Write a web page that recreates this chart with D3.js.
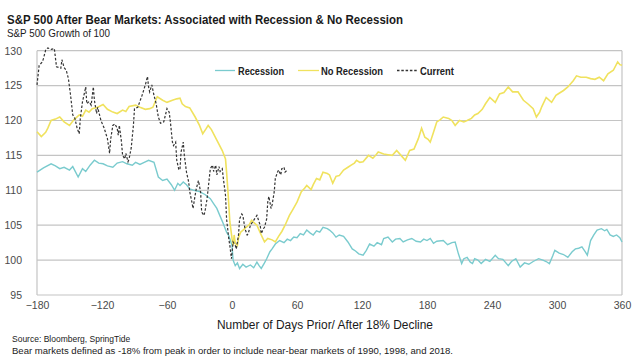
<!DOCTYPE html>
<html><head><meta charset="utf-8">
<script src="https://cdn.jsdelivr.net/npm/d3@7"></script>
<style>body{margin:0;background:#fff}svg{display:block}</style>
</head><body>
<svg id="c" width="643" height="358"></svg>
<script>
const titleText = "S&P 500 After Bear Markets: Associated with Recession & No Recession";
const subtitleText = "S&P 500 Growth of 100";
const xTitle = "Number of Days Prior/ After 18% Decline";
const sourceText = "Source: Bloomberg, SpringTide";
const noteText = "Bear markets defined as -18% from peak in order to include near-bear markets of 1990, 1998, and 2018.";
const xTicks = [-180,-120,-60,0,60,120,180,240,300,360];
const yTicks = [95,100,105,110,115,120,125,130];
const seriesNames = ["Recession","No Recession","Current"];

const recession = [[-180,112.6],[-174,113.2],[-167,113.8],[-163,113.5],[-159,113.1],[-155,113.3],[-150,112.9],[-147,113.4],[-142,111.9],[-138,113.1],[-135,112.7],[-131,113.6],[-127,114.3],[-123,113.9],[-119,113.8],[-115,113.5],[-110,113.3],[-106,113.9],[-101,114.1],[-97,113.8],[-92,113.6],[-89,114.0],[-85,113.7],[-81,114.0],[-77,114.3],[-72,114.0],[-68,111.9],[-64,111.4],[-60,111.6],[-56,110.8],[-53,110.0],[-50,111.0],[-48,110.7],[-45,111.2],[-42,110.8],[-39,110.2],[-35,110.0],[-30,109.8],[-25,109.4],[-20,108.8],[-17,108.1],[-14,107.4],[-11,106.3],[-8,105.2],[-5,104.0],[-3,103.5],[0,102.1],[1,100.0],[3,99.2],[5,99.6],[7,98.8],[10,99.4],[13,99.0],[17,99.3],[20,98.9],[23,99.7],[25,99.2],[27,98.8],[30,99.6],[32,100.2],[35,101.2],[37,101.6],[40,102.3],[44,102.8],[48,102.5],[51,103.0],[54,102.8],[57,103.3],[60,103.2],[63,103.8],[66,103.6],[69,104.3],[72,103.9],[75,103.6],[78,104.2],[81,104.0],[84,104.7],[88,104.5],[90,104.3],[93,103.9],[96,103.3],[99,103.6],[103,103.4],[107,102.6],[111,101.6],[114,101.3],[117,100.9],[121,100.7],[124,101.4],[127,102.3],[131,102.0],[134,102.5],[138,102.2],[140,103.1],[144,103.3],[148,102.6],[151,103.0],[155,103.1],[158,102.6],[162,102.9],[166,103.1],[170,102.7],[174,102.6],[177,103.0],[180,102.8],[183,103.1],[186,102.4],[189,102.7],[195,102.8],[199,102.2],[203,102.5],[206,102.6],[209,100.9],[212,99.5],[214,100.2],[217,100.4],[220,99.7],[222,99.5],[224,100.2],[227,100.0],[230,99.5],[234,100.1],[238,99.8],[243,100.7],[246,100.2],[250,100.1],[255,99.2],[258,99.8],[262,100.2],[266,99.0],[270,99.6],[274,99.4],[278,99.8],[283,100.2],[287,100.0],[290,99.8],[293,99.5],[296,100.6],[298,101.4],[302,101.0],[306,100.8],[310,100.4],[314,101.2],[317,101.6],[320,101.7],[323,101.9],[326,101.2],[328,100.7],[331,102.8],[334,103.6],[337,104.3],[341,104.5],[344,104.2],[346,104.4],[349,103.6],[352,103.4],[355,103.6],[358,103.2],[360,102.6]];

const noRecession = [[-180,118.4],[-176,117.7],[-172,118.3],[-170,118.9],[-167,120.0],[-163,120.2],[-159,120.5],[-155,119.8],[-150,119.3],[-146,120.1],[-141,120.8],[-138,120.6],[-135,121.5],[-132,121.2],[-129,121.7],[-124,121.9],[-119,122.3],[-115,121.6],[-110,121.2],[-106,121.0],[-101,121.5],[-98,121.3],[-95,122.0],[-89,122.2],[-85,121.9],[-80,121.6],[-76,121.7],[-73,121.9],[-69,123.4],[-64,122.9],[-60,122.6],[-55,122.9],[-51,123.1],[-48,123.2],[-46,122.4],[-43,122.0],[-39,121.8],[-34,120.5],[-30,119.3],[-27,118.1],[-24,118.8],[-22,119.3],[-19,118.7],[-14,117.2],[-9,115.7],[-6,114.5],[-5,112.6],[-3.5,109.3],[-2,105.5],[0,103.1],[1,102.1],[2,103.6],[3,102.4],[5,102.1],[6,103.2],[8,104.0],[11,104.4],[13,104.7],[16,105.1],[18,105.7],[20,105.4],[23,105.0],[25,104.3],[27,103.6],[30,102.6],[33,103.1],[37,102.9],[40,102.6],[43,103.4],[46,104.1],[49,105.0],[53,106.4],[56,107.2],[60,108.3],[64,109.8],[67,110.3],[69,110.7],[73,110.1],[75,110.8],[78,111.7],[81,111.5],[84,112.6],[88,112.4],[90,112.2],[93,111.0],[96,112.0],[99,112.1],[103,112.9],[107,113.3],[110,113.6],[113,113.9],[115,114.3],[118,114.0],[121,114.1],[126,115.0],[130,114.6],[133,115.1],[135,115.5],[140,115.2],[144,115.1],[148,115.0],[152,115.7],[156,115.0],[160,114.3],[164,115.7],[168,115.9],[172,117.4],[175,118.9],[178,117.6],[181,117.3],[183,116.9],[186,118.3],[189,119.8],[192,120.1],[195,120.5],[200,120.3],[203,120.0],[206,119.3],[210,120.0],[214,119.8],[217,120.0],[221,120.3],[224,120.8],[227,121.0],[231,121.6],[234,122.4],[238,123.3],[243,122.6],[247,123.8],[251,124.0],[255,124.8],[259,124.1],[264,124.1],[269,122.9],[273,122.4],[278,121.7],[281,120.5],[284,121.2],[286,122.0],[290,123.3],[295,122.6],[299,123.6],[302,123.9],[306,124.3],[310,124.8],[315,125.7],[318,126.4],[322,126.2],[327,126.2],[331,126.0],[335,125.9],[339,126.2],[343,125.7],[347,126.7],[352,127.2],[356,128.4],[358,128.0],[360,127.9]];

const current = [[-180,125.1],[-179,126.5],[-178,127.9],[-175,128.4],[-174,128.9],[-172,130.1],[-170,130.4],[-167,130.2],[-164,130.3],[-162,127.7],[-158,127.5],[-157,128.7],[-155,127.6],[-153,127.2],[-151,126.0],[-149,123.6],[-147,120.8],[-145,120.3],[-143,118.9],[-141,118.1],[-140,120.3],[-138,122.7],[-135,124.8],[-134,122.4],[-132,122.7],[-130,122.2],[-128,124.8],[-127,122.9],[-125,121.0],[-124,121.9],[-121,120.0],[-118,118.9],[-115,117.4],[-113,115.3],[-112,117.3],[-110,119.3],[-108,119.5],[-106,118.9],[-105,117.9],[-104,119.3],[-102,116.9],[-101,115.0],[-99,114.5],[-98,115.3],[-96,114.1],[-95,114.5],[-93,116.1],[-91,119.3],[-90,121.7],[-87,121.9],[-83,123.6],[-80,125.1],[-78,126.3],[-77,124.8],[-76,124.1],[-75,124.6],[-74,125.1],[-72,123.6],[-70,122.4],[-68,120.5],[-66,119.6],[-63,119.8],[-60,121.7],[-58,121.2],[-57,120.0],[-55,116.9],[-54,116.4],[-52,116.9],[-51,114.3],[-49,112.9],[-48,113.1],[-47,115.5],[-45,116.9],[-44,115.0],[-42,112.6],[-40,111.2],[-39,109.8],[-37,108.3],[-36,107.4],[-34,109.3],[-33,110.2],[-31,111.4],[-29,109.8],[-28,106.9],[-26,106.4],[-25,106.9],[-23,108.8],[-21,111.7],[-20,113.1],[-18,113.6],[-17,112.7],[-15,113.6],[-14,112.2],[-12,113.4],[-11,112.7],[-9,113.1],[-8,111.7],[-6,109.3],[-5,105.9],[-3,103.1],[-2,102.1],[-0.5,100.2],[1,102.6],[3,102.1],[4,101.6],[6,103.6],[7,105.9],[9,106.6],[10,106.4],[12,104.5],[14,103.6],[15,103.8],[17,105.0],[20,105.7],[23,106.4],[26,105.0],[27,103.8],[29,104.5],[30,104.7],[32,105.9],[33,108.3],[34,109.1],[35,108.3],[36,107.4],[37,107.9],[39,109.8],[40,111.7],[42,112.6],[43,112.9],[45,112.2],[46,113.1],[48,113.3],[49,112.6],[51,112.9]];

const W = 643, H = 358;
const M = {left:37, right:622, top:50.7, bottom:295};
const svg = d3.select("#c");
const x = d3.scaleLinear().domain([-180,360]).range([M.left, M.right]);
const y = d3.scaleLinear().domain([95,130]).range([M.bottom, M.top]);
const FONT = "'Liberation Sans', Arial, sans-serif";
const NARROW = "'Liberation Sans Narrow', 'Arial Narrow', 'Liberation Sans', sans-serif";

// gridlines
svg.append("g").selectAll("line").data(yTicks).join("line")
  .attr("x1", M.left).attr("x2", M.right)
  .attr("y1", d=>y(d)).attr("y2", d=>y(d))
  .attr("stroke", "#c4c4c4").attr("stroke-width", 1.2);
svg.append("line").attr("x1",M.left).attr("x2",M.left).attr("y1",M.top).attr("y2",M.bottom).attr("stroke","#c4c4c4").attr("stroke-width",1.2);
svg.append("line").attr("x1",M.right).attr("x2",M.right).attr("y1",M.top).attr("y2",M.bottom).attr("stroke","#c4c4c4").attr("stroke-width",1.2);

// y axis labels
const yAxis = d3.axisLeft(y).tickValues(yTicks).tickSize(0).tickPadding(15);
const gy = svg.append("g").attr("transform", `translate(${M.left},0)`).call(yAxis);
gy.select(".domain").remove();
gy.selectAll("text").attr("font-family", FONT).attr("font-size", 10.5).attr("fill", "#4a4a4a");

// x axis labels
const xAxis = d3.axisBottom(x).tickValues(xTicks).tickSize(0).tickPadding(7);
const gx = svg.append("g").attr("transform", `translate(0,${M.bottom})`).call(xAxis);
gx.select(".domain").remove();
gx.selectAll("text").attr("font-family", FONT).attr("font-size", 10.5).attr("fill", "#4a4a4a");

const line = d3.line().x(d=>x(d[0])).y(d=>y(d[1])).curve(d3.curveLinear);
svg.append("path").datum(recession).attr("d", line).attr("fill","none").attr("stroke","#7acbce").attr("stroke-width",1.4);
svg.append("path").datum(noRecession).attr("d", line).attr("fill","none").attr("stroke","#f0e25e").attr("stroke-width",1.6);
svg.append("path").datum(current).attr("d", line).attr("fill","none").attr("stroke","#333").attr("stroke-width",1.2).attr("stroke-dasharray","2.5,1.8");

// legend
const legend = [
  {name: seriesNames[0], color:"#7acbce", dash:null, x1:215, x2:235, tx:238, w:46},
  {name: seriesNames[1], color:"#f0e25e", dash:null, x1:298, x2:319, tx:321, w:62},
  {name: seriesNames[2], color:"#333", dash:"2.5,1.8", x1:397, x2:418, tx:420, w:34}
];
const lg = svg.append("g");
legend.forEach(l=>{
  lg.append("line").attr("x1",l.x1).attr("x2",l.x2).attr("y1",70.5).attr("y2",70.5)
    .attr("stroke",l.color).attr("stroke-width",1.3).attr("stroke-dasharray",l.dash);
  lg.append("text").attr("x",l.tx).attr("y",74.5).text(l.name)
    .attr("font-family",NARROW).attr("font-weight","bold").attr("font-size",11).attr("fill","#222")
    .attr("textLength",l.w).attr("lengthAdjust","spacingAndGlyphs");
});

// titles
svg.append("text").attr("x",7).attr("y",24).text(titleText)
  .attr("font-family",FONT).attr("font-weight","bold").attr("font-size",13.5).attr("fill","#1a1a1a")
  .attr("textLength",396).attr("lengthAdjust","spacingAndGlyphs");
svg.append("text").attr("x",7).attr("y",37).text(subtitleText)
  .attr("font-family",FONT).attr("font-size",11).attr("fill","#1a1a1a")
  .attr("textLength",103).attr("lengthAdjust","spacingAndGlyphs");
svg.append("text").attr("x",325).attr("y",328.5).attr("text-anchor","middle").text(xTitle)
  .attr("font-family",FONT).attr("font-size",12.5).attr("fill","#1a1a1a")
  .attr("textLength",216).attr("lengthAdjust","spacingAndGlyphs");
svg.append("text").attr("x",12).attr("y",342).text(sourceText)
  .attr("font-family",FONT).attr("font-size",8.5).attr("fill","#1a1a1a");
svg.append("text").attr("x",12).attr("y",354).text(noteText)
  .attr("font-family",FONT).attr("font-size",8.5).attr("fill","#1a1a1a")
  .attr("textLength",441).attr("lengthAdjust","spacingAndGlyphs");
</script>
</body></html>
